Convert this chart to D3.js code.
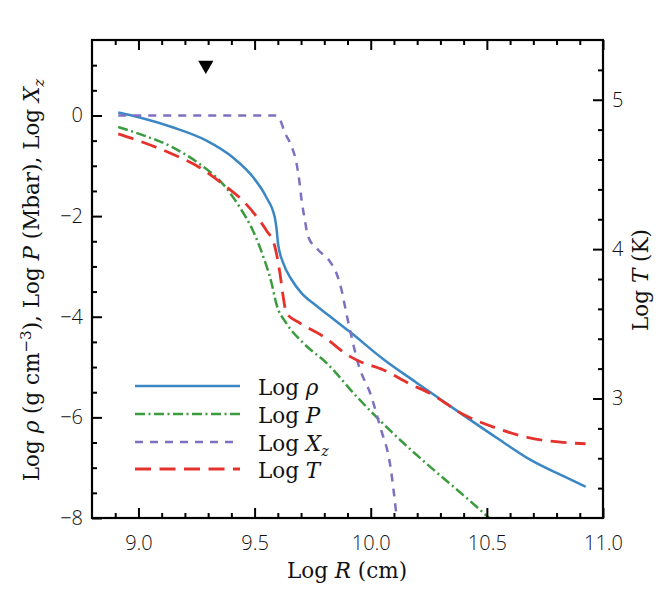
<!DOCTYPE html>
<html>
<head>
<meta charset="utf-8">
<script src="https://cdn.jsdelivr.net/npm/d3@7"></script>
<style>
body { margin: 0; background: #fff; }
.tlab text { font-family: "Open Sans", sans-serif; font-weight: 300; font-size: 20px; fill: #111; }
.serif { font-family: "DejaVu Serif", serif; font-size: 21.5px; fill: #111; }
</style>
</head>
<body>
<div id="chart"></div>
<script>
// values: Log R (cm) and the curve value at that radius
var rhoR = [8.913, 9.006, 9.150, 9.293, 9.408, 9.494, 9.551, 9.587, 9.595, 9.601, 9.623, 9.659, 9.702, 9.766, 9.840, 9.910, 10.053, 10.197, 10.300, 10.400, 10.550, 10.690, 10.830, 10.925];
var rhoV = [0.06, -0.04, -0.24, -0.50, -0.84, -1.23, -1.63, -2.03, -2.27, -2.55, -2.93, -3.26, -3.53, -3.78, -4.05, -4.30, -4.84, -5.31, -5.64, -5.96, -6.43, -6.85, -7.17, -7.38];

var presR = [8.913, 9.006, 9.150, 9.265, 9.365, 9.437, 9.494, 9.537, 9.573, 9.594, 9.637, 9.709, 9.810, 9.940, 10.090, 10.260, 10.400, 10.510];
var presV = [-0.23, -0.37, -0.64, -0.97, -1.37, -1.83, -2.30, -2.80, -3.33, -3.75, -4.13, -4.52, -4.92, -5.59, -6.29, -7.00, -7.55, -8.00];

var xzR = [8.913, 9.590, 9.609, 9.630, 9.659, 9.680, 9.692, 9.702, 9.716, 9.730, 9.773, 9.824, 9.852, 9.874, 9.895, 9.917, 9.945, 10.003, 10.040, 10.085, 10.112];
var xzV = [0, 0, -0.08, -0.34, -0.61, -0.94, -1.28, -1.67, -2.07, -2.40, -2.67, -2.90, -3.13, -3.46, -3.93, -4.39, -4.92, -5.59, -6.18, -6.98, -8.00];

// temperature goes on the right hand axis
var tempR = [8.913, 9.006, 9.150, 9.265, 9.365, 9.451, 9.523, 9.551, 9.587, 9.609, 9.623, 9.637, 9.695, 9.795, 9.910, 9.953, 10.053, 10.168, 10.254, 10.397, 10.541, 10.684, 10.827, 10.925];
var tempV = [4.772, 4.723, 4.634, 4.545, 4.433, 4.322, 4.188, 4.125, 4.018, 3.840, 3.683, 3.572, 3.505, 3.416, 3.282, 3.248, 3.193, 3.098, 3.035, 2.895, 2.802, 2.736, 2.706, 2.697];

// the black marker near the top
var markR = [9.29];
var markV = [1.0];

// tick values
var xMajor = [9.0, 9.5, 10.0, 10.5, 11.0];
var xMinor = [8.9, 9.1, 9.2, 9.3, 9.4, 9.6, 9.7, 9.8, 9.9, 10.1, 10.2, 10.3, 10.4, 10.6, 10.7, 10.8, 10.9];
var yMajor = [-8, -6, -4, -2, 0];
var yMinor = [-7.5, -7, -6.5, -5.5, -5, -4.5, -3.5, -3, -2.5, -1.5, -1, -0.5, 0.5, 1.0];
var tMajor = [3, 4, 5];
var tMinor = [2.4, 2.6, 2.8, 3.2, 3.4, 3.6, 3.8, 4.2, 4.4, 4.6, 4.8, 5.2];

var names = ["Log ρ", "Log P", "Log Xz", "Log T"];
var colors = ["#3b87c6", "#3a9c3e", "#7d70c0", "#e6322c"];
var dashes = [null, "10,3.5,2,3.5", "8,7", "16,8.5"];

var W = 668, H = 602;
var pL = 92, pR = 603, pT = 40, pB = 518;

var x = d3.scaleLinear().domain([8.8, 11.0]).range([pL, pR]);
var y = d3.scaleLinear().domain([-8, 1.5]).range([pB, pT]);
var yT = d3.scaleLinear().domain([2.2, 5.4]).range([pB, pT]);

var svg = d3.select("#chart").append("svg")
    .attr("width", W)
    .attr("height", H);

svg.append("clipPath").attr("id", "plotclip")
  .append("rect")
    .attr("x", pL).attr("y", pT)
    .attr("width", pR - pL).attr("height", pB - pT);

// build [r, v] pairs for each curve
function pairs(r, v) {
    return r.map(function(d, i) { return [d, v[i]]; });
}
var series = [
    {pts: pairs(rhoR, rhoV), sc: y},
    {pts: pairs(presR, presV), sc: y},
    {pts: pairs(xzR, xzV), sc: y},
    {pts: pairs(tempR, tempV), sc: yT}
];

var g = svg.append("g").attr("clip-path", "url(#plotclip)");
series.forEach(function(s, i) {
    var line = d3.line()
        .curve(d3.curveMonotoneX)
        .x(function(d) { return x(d[0]); })
        .y(function(d) { return s.sc(d[1]); });
    g.append("path")
        .datum(s.pts)
        .attr("d", line)
        .attr("fill", "none")
        .attr("stroke", colors[i])
        .attr("stroke-width", i == 3 ? 2.8 : 2.5)
        .attr("stroke-dasharray", dashes[i]);
});

// marker
svg.selectAll(".mark")
    .data(markR)
  .enter().append("path")
    .attr("class", "mark")
    .attr("d", d3.symbol(d3.symbolTriangle, 100))
    .attr("transform", function(d, i) { return "translate(" + x(d) + "," + y(markV[i]) + ") rotate(180)"; })
    .attr("fill", "#000");

// axes, ticks point inwards
function addAxis(axis, tr, vals, size, fmt, pad, cls) {
    var a = svg.append("g")
        .attr("class", cls)
        .attr("transform", tr)
        .call(axis.tickValues(vals).tickSize(-size).tickPadding(pad).tickFormat(fmt));
    a.select(".domain").remove();
    a.selectAll("line").attr("stroke", "#000").attr("stroke-width", 2);
    return a;
}
var none = function() { return ""; };
addAxis(d3.axisBottom(x), "translate(0," + pB + ")", xMinor, 5, none, 0, "");
addAxis(d3.axisBottom(x), "translate(0," + pB + ")", xMajor, 10, d3.format(".1f"), 18, "tlab");
addAxis(d3.axisTop(x), "translate(0," + pT + ")", xMinor, 5, none, 0, "");
addAxis(d3.axisTop(x), "translate(0," + pT + ")", xMajor, 10, none, 0, "");
addAxis(d3.axisLeft(y), "translate(" + pL + ",0)", yMinor, 5, none, 0, "");
addAxis(d3.axisLeft(y), "translate(" + pL + ",0)", yMajor, 10, d3.format("d"), 9, "tlab");
addAxis(d3.axisRight(yT), "translate(" + pR + ",0)", tMinor, 5, none, 0, "");
addAxis(d3.axisRight(yT), "translate(" + pR + ",0)", tMajor, 10, d3.format("d"), 9, "tlab");

// frame
svg.append("rect")
    .attr("x", pL).attr("y", pT)
    .attr("width", pR - pL).attr("height", pB - pT)
    .attr("fill", "none")
    .attr("stroke", "#000")
    .attr("stroke-width", 2.2);

// axis titles
var xt = svg.append("text").attr("class", "serif")
    .attr("x", 347).attr("y", 578)
    .attr("text-anchor", "middle");
xt.append("tspan").text("Log ");
xt.append("tspan").attr("font-style", "italic").text("R");
xt.append("tspan").text(" (cm)");

var yt = svg.append("text").attr("class", "serif")
    .attr("transform", "translate(39,280) rotate(-90)")
    .attr("text-anchor", "middle");
yt.append("tspan").text("Log ");
yt.append("tspan").attr("font-style", "italic").text("ρ");
yt.append("tspan").text(" (g cm");
yt.append("tspan").attr("font-size", "15px").attr("dy", -8).text("−3");
yt.append("tspan").attr("dy", 8).text("), Log ");
yt.append("tspan").attr("font-style", "italic").text("P");
yt.append("tspan").text(" (Mbar), Log ");
yt.append("tspan").attr("font-style", "italic").text("X");
yt.append("tspan").attr("font-style", "italic").attr("font-size", "15px").attr("dy", 5).text("z");

var rt = svg.append("text").attr("class", "serif")
    .attr("transform", "translate(648,280) rotate(-90)")
    .attr("text-anchor", "middle");
rt.append("tspan").text("Log ");
rt.append("tspan").attr("font-style", "italic").text("T");
rt.append("tspan").text(" (K)");

// legend
var legY = [386, 414, 442, 469];
var leg = svg.append("g");
names.forEach(function(n, i) {
    leg.append("line")
        .attr("x1", 135).attr("x2", 240)
        .attr("y1", legY[i]).attr("y2", legY[i])
        .attr("stroke", colors[i])
        .attr("stroke-width", i == 3 ? 2.8 : 2.5)
        .attr("stroke-dasharray", dashes[i]);
    var t = leg.append("text").attr("class", "serif")
        .attr("font-size", "19px")
        .attr("x", 258).attr("y", legY[i] + 9);
    t.append("tspan").text("Log ");
    if (i == 2) {
        t.append("tspan").attr("font-style", "italic").text("X");
        t.append("tspan").attr("font-style", "italic").attr("font-size", "14px").attr("dy", 5).text("z");
    } else {
        t.append("tspan").attr("font-style", "italic").text(n.slice(4));
    }
});
</script>
</body>
</html>
